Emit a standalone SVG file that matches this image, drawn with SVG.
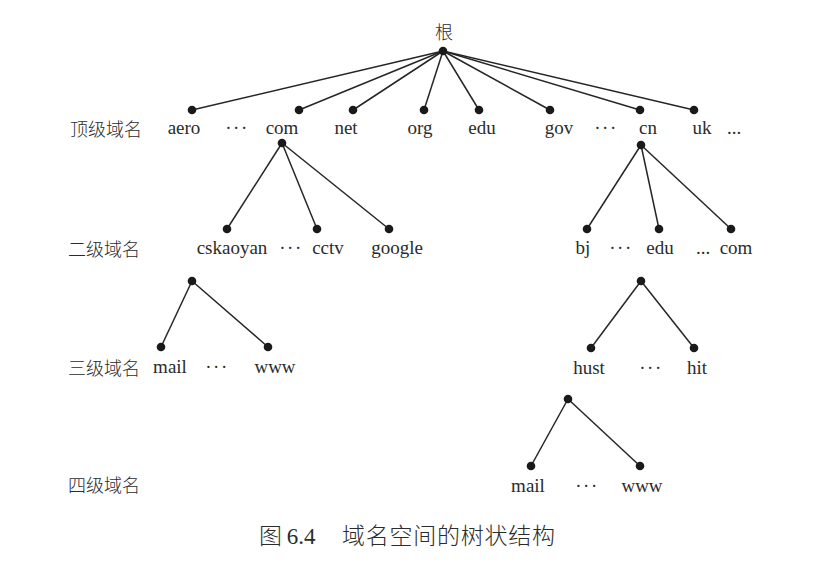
<svg xmlns="http://www.w3.org/2000/svg" width="813" height="570" viewBox="0 0 813 570">
<style>
.bg{fill:#ffffff}
.e{stroke:#262626;stroke-width:1.5;fill:none}
.d{fill:#1a1a1a}
.t{font-family:"Liberation Serif","Times New Roman",serif;font-size:19px;fill:#2b2b2b;text-anchor:middle}
.el{font-family:"Liberation Serif",serif;font-size:19px;fill:#2b2b2b;text-anchor:middle;letter-spacing:1.5px}
.c{font-family:"Noto Sans CJK SC",sans-serif;font-size:18px;fill:#2b2b2b;font-weight:300}
.cap{font-family:"Noto Sans CJK SC",sans-serif;font-size:23px;fill:#2b2b2b;font-weight:300}
</style>
<rect class="bg" x="0" y="0" width="813" height="570"/>
<g id="levels">
<text class="c" x="70" y="136">顶级域名</text>
<text class="c" x="68" y="256">二级域名</text>
<text class="c" x="68" y="375">三级域名</text>
<text class="c" x="68" y="492">四级域名</text>
</g>
<g id="connectors">
<line class="e" x1="443" y1="51" x2="192" y2="110"/>
<line class="e" x1="443" y1="51" x2="299" y2="110"/>
<line class="e" x1="443" y1="51" x2="353" y2="110"/>
<line class="e" x1="443" y1="51" x2="424" y2="110"/>
<line class="e" x1="443" y1="51" x2="479" y2="110"/>
<line class="e" x1="443" y1="51" x2="550" y2="110"/>
<line class="e" x1="443" y1="51" x2="640" y2="110"/>
<line class="e" x1="443" y1="51" x2="694" y2="110"/>
<line class="e" x1="282" y1="143" x2="227" y2="229"/>
<line class="e" x1="282" y1="143" x2="317" y2="229"/>
<line class="e" x1="282" y1="143" x2="389" y2="229"/>
<line class="e" x1="641" y1="145" x2="587" y2="229"/>
<line class="e" x1="641" y1="145" x2="659" y2="229"/>
<line class="e" x1="641" y1="145" x2="731" y2="229"/>
<line class="e" x1="192" y1="281" x2="161" y2="347"/>
<line class="e" x1="192" y1="281" x2="268" y2="347"/>
<line class="e" x1="641" y1="281" x2="591" y2="348"/>
<line class="e" x1="641" y1="281" x2="694" y2="348"/>
<line class="e" x1="568" y1="399" x2="531" y2="466"/>
<line class="e" x1="568" y1="399" x2="640" y2="466"/>
</g>
<g id="root"><circle class="d" cx="443" cy="51" r="4.3"/><text class="c" x="435" y="39">根</text></g>
<g id="aero"><circle class="d" cx="192" cy="110" r="4.3"/><text class="t" x="184" y="134">aero</text></g>
<text class="el" x="237" y="134">···</text>
<g id="com"><circle class="d" cx="299" cy="110" r="4.3"/><circle class="d" cx="282" cy="143" r="4.3"/><text class="t" x="282" y="134">com</text></g>
<g id="net"><circle class="d" cx="353" cy="110" r="4.3"/><text class="t" x="346" y="134">net</text></g>
<g id="org"><circle class="d" cx="424" cy="110" r="4.3"/><text class="t" x="420" y="134">org</text></g>
<g id="edu"><circle class="d" cx="479" cy="110" r="4.3"/><text class="t" x="482" y="134">edu</text></g>
<g id="gov"><circle class="d" cx="550" cy="110" r="4.3"/><text class="t" x="559" y="134">gov</text></g>
<text class="el" x="606" y="134">···</text>
<g id="cn"><circle class="d" cx="640" cy="110" r="4.3"/><circle class="d" cx="641" cy="145" r="4.3"/><text class="t" x="648" y="134">cn</text></g>
<g id="uk"><circle class="d" cx="694" cy="110" r="4.3"/><text class="t" x="702" y="134">uk</text></g>
<text class="t" x="734" y="134">...</text>
<g id="cskaoyan"><circle class="d" cx="227" cy="229" r="4.3"/><circle class="d" cx="192" cy="281" r="4.3"/><text class="t" x="232" y="254">cskaoyan</text></g>
<text class="el" x="291" y="254">···</text>
<g id="cctv"><circle class="d" cx="317" cy="229" r="4.3"/><text class="t" x="328" y="254">cctv</text></g>
<g id="google"><circle class="d" cx="389" cy="229" r="4.3"/><text class="t" x="397" y="254">google</text></g>
<g id="bj"><circle class="d" cx="587" cy="229" r="4.3"/><text class="t" x="583" y="254">bj</text></g>
<text class="el" x="621" y="254">···</text>
<g id="cn-edu"><circle class="d" cx="659" cy="229" r="4.3"/><circle class="d" cx="641" cy="281" r="4.3"/><text class="t" x="660" y="254">edu</text></g>
<text class="t" x="703" y="254">...</text>
<g id="cn-com"><circle class="d" cx="731" cy="229" r="4.3"/><text class="t" x="736" y="254">com</text></g>
<g id="mail3"><circle class="d" cx="161" cy="347" r="4.3"/><text class="t" x="170" y="373">mail</text></g>
<text class="el" x="217" y="373">···</text>
<g id="www3"><circle class="d" cx="268" cy="347" r="4.3"/><text class="t" x="275" y="373">www</text></g>
<g id="hust"><circle class="d" cx="591" cy="348" r="4.3"/><circle class="d" cx="568" cy="399" r="4.3"/><text class="t" x="589" y="374">hust</text></g>
<text class="el" x="651" y="374">···</text>
<g id="hit"><circle class="d" cx="694" cy="348" r="4.3"/><text class="t" x="697" y="374">hit</text></g>
<g id="mail4"><circle class="d" cx="531" cy="466" r="4.3"/><text class="t" x="528" y="492">mail</text></g>
<text class="el" x="587" y="492">···</text>
<g id="www4"><circle class="d" cx="640" cy="466" r="4.3"/><text class="t" x="642" y="492">www</text></g>
<g id="caption">
<text class="cap" x="259" y="544">图</text>
<text class="t" x="301" y="544" style="font-size:23px">6.4</text>
<text class="cap" x="342" y="544" textLength="213" lengthAdjust="spacing">域名空间的树状结构</text>
</g>
</svg>
